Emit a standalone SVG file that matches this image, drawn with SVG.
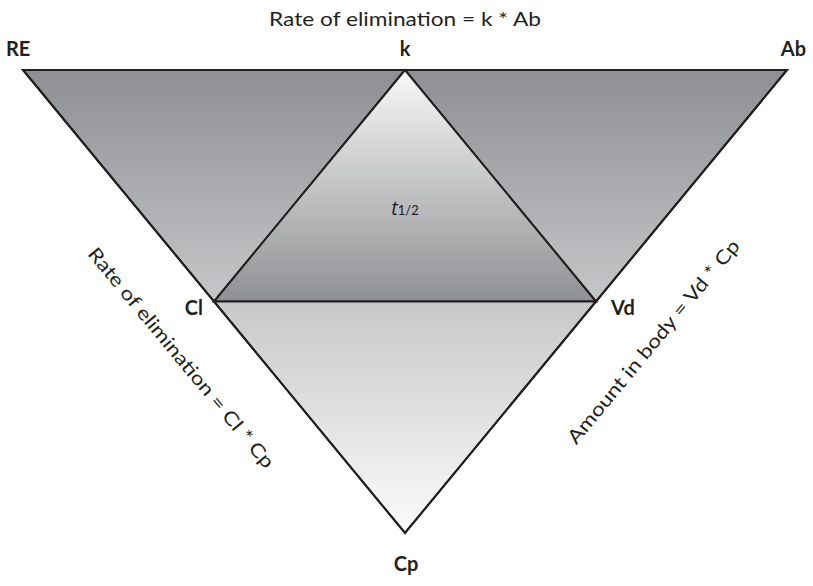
<svg xmlns="http://www.w3.org/2000/svg" width="813" height="586" viewBox="0 0 813 586">
  <defs>
    <linearGradient id="gSide" gradientUnits="userSpaceOnUse" x1="0" y1="70" x2="0" y2="302">
      <stop offset="0" stop-color="#8e8f92"/>
      <stop offset="1" stop-color="#c6c7c9"/>
    </linearGradient>
    <linearGradient id="gMid" gradientUnits="userSpaceOnUse" x1="0" y1="70" x2="0" y2="302">
      <stop offset="0" stop-color="#f8f8f8"/>
      <stop offset="1" stop-color="#8f9093"/>
    </linearGradient>
    <linearGradient id="gLow" gradientUnits="userSpaceOnUse" x1="0" y1="302" x2="0" y2="533">
      <stop offset="0" stop-color="#c7c8ca"/>
      <stop offset="1" stop-color="#fbfbfb"/>
    </linearGradient>
  </defs>
  <style>
    .edge { stroke: #231f20; stroke-width: 2; stroke-linejoin: miter; }
    .lbl { font-family: Lato, "Open Sans", "Liberation Sans", sans-serif; font-weight: bold; font-size: 20px; fill: #231f20; }
    .txt { font-family: Lato, "Open Sans", "Liberation Sans", sans-serif; font-size: 19px; fill: #231f20; }
    .it { font-family: "Open Sans", "Liberation Sans", sans-serif; font-style: italic; }
  </style>
  <rect width="813" height="586" fill="#ffffff"/>
  <g id="shapes">
    <polygon id="tri-left" class="edge" points="23,70 405,70 214,301.5" fill="url(#gSide)"/>
    <polygon id="tri-right" class="edge" points="405,70 787,70 596,301.5" fill="url(#gSide)"/>
    <polygon id="tri-center" class="edge" points="405,70 214,301.5 596,301.5" fill="url(#gMid)"/>
    <polygon id="tri-bottom" class="edge" points="214,301.5 596,301.5 405,533" fill="url(#gLow)"/>
  </g>
  <g id="connectors">
    <polygon class="edge" points="23,70 787,70 405,533" fill="none"/>
  </g>
  <g id="node-RE"><text class="lbl" x="6" y="56">RE</text></g>
  <g id="node-k"><text class="lbl" x="405" y="56" text-anchor="middle">k</text></g>
  <g id="node-Ab"><text class="lbl" x="806" y="56" text-anchor="end">Ab</text></g>
  <g id="node-Cl"><text class="lbl" x="203" y="315" text-anchor="end">Cl</text></g>
  <g id="node-Vd"><text class="lbl" x="611" y="315">Vd</text></g>
  <g id="node-Cp"><text class="lbl" x="406" y="571" text-anchor="middle">Cp</text></g>
  <g id="node-thalf">
    <text class="txt" x="405" y="215" text-anchor="middle"><tspan class="it" font-size="20">t</tspan><tspan font-size="13">1/2</tspan></text>
  </g>
  <g id="label-top"><text class="txt" x="405" y="26" text-anchor="middle" textLength="272" lengthAdjust="spacingAndGlyphs">Rate of elimination = k * Ab</text></g>
  <g id="label-left"><text class="txt" transform="translate(176,362) rotate(50.4)" text-anchor="middle" textLength="280" lengthAdjust="spacingAndGlyphs">Rate of elimination = Cl * Cp</text></g>
  <g id="label-right"><text class="txt" transform="translate(658.6,345.8) rotate(-50.4)" text-anchor="middle" textLength="258" lengthAdjust="spacingAndGlyphs">Amount in body = Vd * Cp</text></g>
</svg>
